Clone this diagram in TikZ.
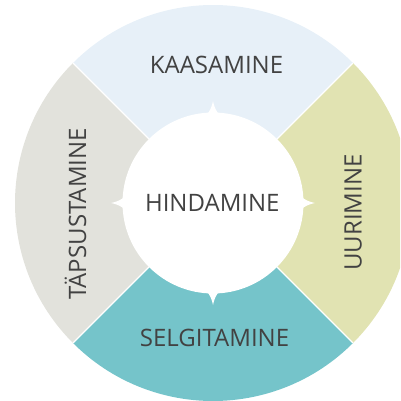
\documentclass[tikz,border=0pt]{standalone}
\usepackage{fontspec}
\setmainfont{Open Sans}
\definecolor{ctop}{HTML}{E7F0F8}
\definecolor{cright}{HTML}{E1E3B2}
\definecolor{cbottom}{HTML}{75C4CA}
\definecolor{cleft}{HTML}{E2E2DC}
\definecolor{ctext}{HTML}{424242}
\begin{document}
\begin{tikzpicture}[x=1pt,y=1pt,
  lbl/.style={text=ctext,font=\fontsize{24}{26}\selectfont,inner sep=0pt,anchor=base},
  divider/.style={draw=white,line width=1.2pt},
  spike/.style={fill=white}]
\useasboundingbox (0,0) rectangle (400,-401);
\clip (0,0) rectangle (400,-401);
\coordinate (c) at (213,-203);
% sectors
\fill[ctop] (c) -- ++(45:198) arc (45:135:198) -- cycle;
\fill[cleft] (c) -- ++(135:198) arc (135:225:198) -- cycle;
\fill[cbottom] (c) -- ++(225:198) arc (225:315:198) -- cycle;
\fill[cright] (c) -- ++(315:198) arc (315:405:198) -- cycle;
% dividers
\foreach \a in {45,135,225,315} \draw[divider] (c) -- ++(\a:198);
% inner circle
\fill[white] (c) circle (90.5);
% spikes
\foreach \a in {0,90,180,270}
  \fill[spike,shift={(213,-203)},rotate=\a] (-7,88) .. controls (-3,91) and (-1,97) .. (0,102) .. controls (1,97) and (3,91) .. (7,88) -- cycle;
% labels
\node[lbl] (hind) at (212.3,-211) {HINDAMINE};
\node[lbl] (kaas) at (216.5,-74) {KAASAMINE};
\node[lbl] (selg) at (214.5,-346.5) {SELGITAMINE};
\node[lbl,rotate=90] (uuri) at (361.5,-212.5) {UURIMINE};
\node[lbl,rotate=90] (taps) at (86,-214) {TÄPSUSTAMINE};
\end{tikzpicture}
\end{document}
